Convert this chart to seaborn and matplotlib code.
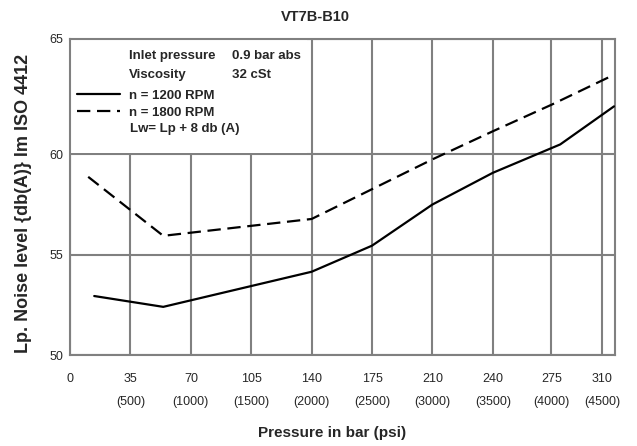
import numpy as np
import pandas as pd
import matplotlib.pyplot as plt
from matplotlib.lines import Line2D
import seaborn as sns

# noise curves (pressure in bar, Lp in dB(A))
bar_1200 = [14, 54, 140, 175, 210, 240, 281, 318]
db_1200 = [52.94, 52.4, 54.15, 55.45, 57.5, 59.08, 60.43, 62.08]
bar_1800 = [10.5, 54, 140, 210, 240, 275, 318]
db_1800 = [58.88, 55.94, 56.78, 59.75, 61.0, 62.15, 63.45]

bar_ticks = [0, 35, 70, 105, 140, 175, 210, 240, 275, 310]
psi_labels = ['', '(500)', '(1000)', '(1500)', '(2000)', '(2500)',
              '(3000)', '(3500)', '(4000)', '(4500)']
db_ticks = [50, 55, 60, 65]

# the printed grid is not evenly spaced, this is where the ticks really sit
bar_pos = [0, 35, 70, 105, 140, 175, 210, 245, 279, 308.5]
db_pos = [0, 5, 10, 15.75]


def make_scale(vals, pos):
    slope = (pos[-1] - pos[-2]) / (vals[-1] - vals[-2])
    v = np.r_[vals[0] - 100, vals, vals[-1] + 100]
    p = np.r_[pos[0] - 100, pos, pos[-1] + 100 * slope]
    return (lambda x: np.interp(x, v, p)), (lambda x: np.interp(x, p, v))


df = pd.concat([
    pd.DataFrame({'bar': bar_1200, 'db': db_1200, 'rpm': 'n = 1200 RPM'}),
    pd.DataFrame({'bar': bar_1800, 'db': db_1800, 'rpm': 'n = 1800 RPM'}),
])

sns.set_style('white')
plt.rcParams['font.family'] = ['Liberation Sans', 'DejaVu Sans']

fig = plt.figure(figsize=(6.37, 4.46), dpi=100)
ax = fig.add_axes([0.110, 0.204, 0.8555, 0.7086])

grey = '#808080'
dash = (6, 3)
sns.lineplot(data=df, x='bar', y='db', style='rpm', color='black', lw=1.6,
             dashes={'n = 1200 RPM': '', 'n = 1800 RPM': dash},
             legend=False, ax=ax, zorder=3)

ax.set_xscale('function', functions=make_scale(bar_ticks, bar_pos))
ax.set_yscale('function', functions=make_scale(db_ticks, db_pos))
ax.set_xlim(0, 318.7)
ax.set_ylim(50, 65)

ax.set_xticks(bar_ticks, [f'{b}\n{p}' for b, p in zip(bar_ticks, psi_labels)])
ax.set_yticks(db_ticks, [str(d) for d in db_ticks])
ax.tick_params(axis='x', length=0, pad=13, labelsize=9)
ax.tick_params(axis='y', length=0, pad=5, labelsize=9)
for t in ax.get_xticklabels():
    t.set_linespacing(2.2)

ax.grid(True, color=grey, lw=1.5)
ax.set_axisbelow(True)
for s in ax.spines.values():
    s.set_color(grey)
    s.set_linewidth(1.5)

# white block behind the notes
ax.axvspan(0, 137.5, ymin=0.638, ymax=1, color='white', zorder=1, lw=0)

fs = 9.5
ax.text(0.108, 0.947, 'Inlet pressure', transform=ax.transAxes, fontsize=fs,
        fontweight='bold', va='center')
ax.text(0.297, 0.947, '0.9 bar abs', transform=ax.transAxes, fontsize=fs,
        fontweight='bold', va='center')
ax.text(0.108, 0.886, 'Viscosity', transform=ax.transAxes, fontsize=fs,
        fontweight='bold', va='center')
ax.text(0.297, 0.886, '32 cSt', transform=ax.transAxes, fontsize=fs,
        fontweight='bold', va='center')
ax.text(0.110, 0.715, 'Lw= Lp + 8 db (A)', transform=ax.transAxes, fontsize=fs,
        fontweight='bold', va='center')

handles = [Line2D([], [], color='black', lw=1.6),
           Line2D([], [], color='black', lw=1.6, dashes=dash)]
ax.legend(handles, ['n = 1200 RPM', 'n = 1800 RPM'], loc='upper left',
          bbox_to_anchor=(0.012, 0.839), frameon=False, borderpad=0,
          borderaxespad=0, handlelength=3.3, handletextpad=0.68,
          labelspacing=0.33, prop={'size': fs, 'weight': 'bold'})

ax.set_xlabel('')
ax.set_ylabel('')
fig.text(0.4945, 1 - 16.7 / 446, 'VT7B-B10', ha='center', va='center',
         fontsize=10.5, fontweight='bold')
fig.text(24 / 637, 1 - 203 / 446, 'Lp. Noise level {db(A)} lm ISO 4412',
         rotation=90, ha='center', va='center', fontsize=13, fontweight='bold')
fig.text(332 / 637, 1 - 433 / 446, 'Pressure in bar (psi)', ha='center',
         va='center', fontsize=11, fontweight='bold')

fig.savefig('out.png', dpi=100)
